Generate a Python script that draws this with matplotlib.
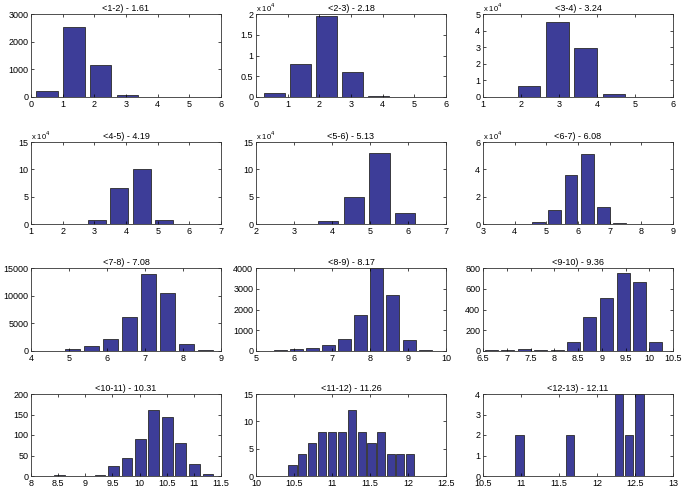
import matplotlib
matplotlib.use('Agg')
import matplotlib.pyplot as plt
import numpy as np
from matplotlib.ticker import FuncFormatter, MultipleLocator

plt.rcParams['font.family'] = ['Liberation Sans', 'DejaVu Sans']

titles = ['<1-2) - 1.61', '<2-3) - 2.18', '<3-4) - 3.24',
          '<4-5) - 4.19', '<5-6) - 5.13', '<6-7) - 6.08',
          '<7-8) - 7.08', '<8-9) - 8.17', '<9-10) - 9.36',
          '<10-11) - 10.31', '<11-12) - 11.26', '<12-13) - 12.11']

centers_1 = [0.5, 1.35, 2.2, 3.05, 3.9, 4.75, 5.6]
counts_1 = [205, 2545, 1140, 85, 8, 3, 1]

centers_2 = [0.59, 1.41, 2.23, 3.05, 3.87, 4.69, 5.51]
counts_2 = [850, 8050, 19600, 6100, 300, 30, 5]

centers_3 = [1.47, 2.215, 2.96, 3.705, 4.45, 5.195]
counts_3 = [100, 6450, 45200, 29600, 2000, 50]

centers_4 = [1.65, 2.36, 3.07, 3.78, 4.49, 5.2, 5.91]
counts_4 = [30, 100, 6700, 65600, 100600, 8000, 150]

centers_5 = [2.54, 3.22, 3.9, 4.58, 5.25, 5.92, 6.6]
counts_5 = [20, 80, 5000, 48500, 130700, 19600, 300]

centers_6 = [3.73, 4.24, 4.75, 5.26, 5.78, 6.29, 6.8, 7.31, 7.82, 8.33]
counts_6 = [20, 150, 1700, 9900, 36000, 51300, 12100, 700, 60, 10]

centers_7 = [4.6, 5.1, 5.6, 6.1, 6.6, 7.1, 7.6, 8.1, 8.6]
counts_7 = [50, 300, 850, 2100, 6200, 13850, 10400, 1270, 200]

centers_8 = [5.65, 6.07, 6.49, 6.91, 7.34, 7.76, 8.18, 8.6, 9.03, 9.45]
counts_8 = [50, 100, 150, 290, 600, 1720, 3990, 2700, 520, 50]

centers_9 = [6.675, 7.02, 7.37, 7.71, 8.06, 8.41, 8.75, 9.1, 9.45, 9.79, 10.14]
counts_9 = [6, 10, 20, 10, 13, 85, 328, 514, 755, 667, 85]

centers_10 = [8.53, 8.78, 9.02, 9.27, 9.52, 9.77, 10.02, 10.26, 10.51, 10.76, 11.01, 11.26]
counts_10 = [2, 0, 0, 2, 25, 45, 91, 161, 145, 81, 29, 4]

centers_11 = [10.48, 10.61, 10.74, 10.87, 11.0, 11.13, 11.26, 11.39, 11.52, 11.65, 11.78, 11.9, 12.03]
counts_11 = [2, 4, 6, 8, 8, 8, 12, 8, 6, 8, 4, 4, 4]

centers_12 = [10.98, 11.64, 12.29, 12.42, 12.56]
counts_12 = [2, 2, 4, 2, 4]

bin_widths = [0.85, 0.82, 0.745, 0.71, 0.675, 0.51, 0.5, 0.424, 0.346, 0.248, 0.1295, 0.1315]

xlims = [(0, 6), (0, 6), (1, 6), (1, 7), (2, 7), (3, 9),
         (4, 9), (5, 10), (6.5, 10.5), (8, 11.5), (10, 12.5), (10.5, 13)]
xsteps = [1, 1, 1, 1, 1, 1, 1, 1, 0.5, 0.5, 0.5, 0.5]
ylims = [3000, 20000, 50000, 150000, 150000, 60000,
         15000, 4000, 800, 200, 15, 4]
ysteps = [1000, 5000, 10000, 50000, 50000, 20000,
          5000, 1000, 200, 50, 5, 1]
yscales = [1, 1e4, 1e4, 1e4, 1e4, 1e4, 1, 1, 1, 1, 1, 1]

centers = [centers_1, centers_2, centers_3, centers_4, centers_5, centers_6,
           centers_7, centers_8, centers_9, centers_10, centers_11, centers_12]
counts = [counts_1, counts_2, counts_3, counts_4, counts_5, counts_6,
          counts_7, counts_8, counts_9, counts_10, counts_11, counts_12]

W, H = 685, 492
fig = plt.figure(figsize=(W / 100, H / 100), dpi=100)
fig.patch.set_facecolor('white')

col_left = [31, 256, 483]
col_w = 190
row_top = [14, 142, 268, 394]
row_bot = [97, 224, 351, 476]

bar_color = '#3d3d98'
fs = 6.5

for i in range(12):
    r, c = divmod(i, 3)
    l = col_left[c]
    t = row_top[r]
    b = row_bot[r]
    ax = fig.add_axes([l / W, 1 - b / H, col_w / W, (b - t) / H])
    frac = 0.82 if i >= 10 else 0.8
    ax.bar(centers[i], counts[i], width=bin_widths[i] * frac,
           color=bar_color, edgecolor='#2a2a2a', linewidth=0.6)
    ax.set_xlim(*xlims[i])
    ax.set_ylim(0, ylims[i])
    ax.xaxis.set_major_locator(MultipleLocator(xsteps[i]))
    ax.yaxis.set_major_locator(MultipleLocator(ysteps[i]))
    sc = yscales[i]
    ax.yaxis.set_major_formatter(FuncFormatter(lambda v, p, sc=sc: f"{v / sc:g}"))
    ax.xaxis.set_major_formatter(FuncFormatter(lambda v, p: f"{v:g}"))
    ax.tick_params(direction='in', length=2.5, width=0.5, labelsize=fs,
                   top=True, right=True, pad=2)
    for s in ax.spines.values():
        s.set_linewidth(0.6)
        s.set_color('#333333')
    ax.set_title(titles[i], fontsize=fs, pad=2.5)
    if sc != 1:
        ax.text(0.0, 1.0, r'x 10$^4$', transform=ax.transAxes,
                fontsize=5.5, ha='left', va='bottom')

fig.savefig('out.png', dpi=100, facecolor='white')
